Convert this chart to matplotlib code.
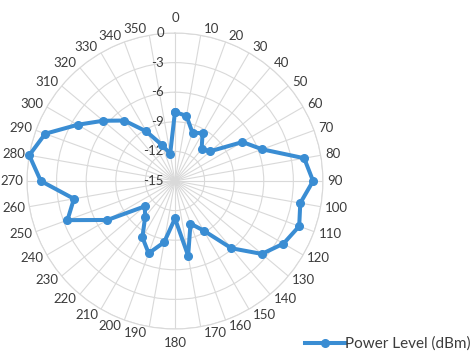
import numpy as np
import matplotlib.pyplot as plt

# antenna bearing (deg) and received power at each bearing
angles = list(range(0, 360, 10))
power_dbm = [-8.0, -8.3, -9.8, -9.4, -10.8, -10.3, -7.1, -5.6, -1.7, -1.0,
             -2.1, -1.6, -2.3, -3.5, -6.1, -9.2, -10.4, -7.3, -11.2, -8.7,
             -7.2, -8.4, -10.3, -11.0, -7.1, -3.4, -4.6, -1.4, 0.0, -1.0,
             -3.6, -5.5, -7.0, -9.2, -11.1, -12.2]
r_ticks = [-15, -12, -9, -6, -3, 0]
series_name = 'Power Level (dBm)'

LINE = '#3a8dd3'
GRID = '#d9d9d9'
TEXT = '#3c3c3c'
PX = 0.72  # points per pixel at 100 dpi
plt.rcParams['font.family'] = ['Lato', 'DejaVu Sans']

fig = plt.figure(figsize=(4.72, 3.52), dpi=100)
ax = fig.add_axes([0.0572, 0.0653, 0.627, 0.841], projection='polar')
ax.set_theta_zero_location('N')
ax.set_theta_direction(-1)
ax.set_ylim(r_ticks[0], r_ticks[-1])

theta = np.deg2rad(angles + [angles[0]])
vals = power_dbm + [power_dbm[0]]
ax.plot(theta, vals, color=LINE, lw=2.9, marker='o', ms=5.5,
        solid_joinstyle='round', label=series_name, clip_on=False, zorder=5)

ax.set_xticks(np.deg2rad(angles))
ax.set_xticklabels([])
ax.set_yticks(r_ticks)
ax.set_yticklabels([])
ax.grid(True, color=GRID, lw=0.8)
ax.spines['polar'].set_color(GRID)
ax.spines['polar'].set_linewidth(0.8)
ax.tick_params(length=0)

# category labels just outside the rim, anchored by their inner edge
span = r_ticks[-1] - r_ticks[0]
rim_r = r_ticks[-1] + 2 / 148 * span
for a in angles:
    c = np.cos(np.deg2rad(a))
    if a == 0:
        ha, dx, dy = 'center', 0, 13.5
    elif a == 180:
        ha, dx, dy = 'center', 0, -12
    elif a < 180:
        ha, dx, dy = 'left', 2.5, 4.5 * c
    else:
        ha, dx, dy = 'right', -2, 4.5 * c
    ax.annotate(str(a), (np.deg2rad(a), rim_r), xytext=(dx * PX, dy * PX),
                textcoords='offset points', ha=ha, va='center',
                fontsize=9.5, color=TEXT, annotation_clip=False)

# value labels along the 0 spoke
for r in r_ticks:
    ax.annotate(str(r), (0, r), xytext=(-8, 0), textcoords='offset points',
                ha='right', va='center', fontsize=9.5, color=TEXT)

fig.legend(loc='center left', bbox_to_anchor=(305 / 472, 8 / 352),
           frameon=False, borderpad=0, borderaxespad=0, fontsize=11,
           labelcolor=TEXT, handlelength=2.6, handletextpad=0.05)

fig.savefig('out.png', dpi=100)
